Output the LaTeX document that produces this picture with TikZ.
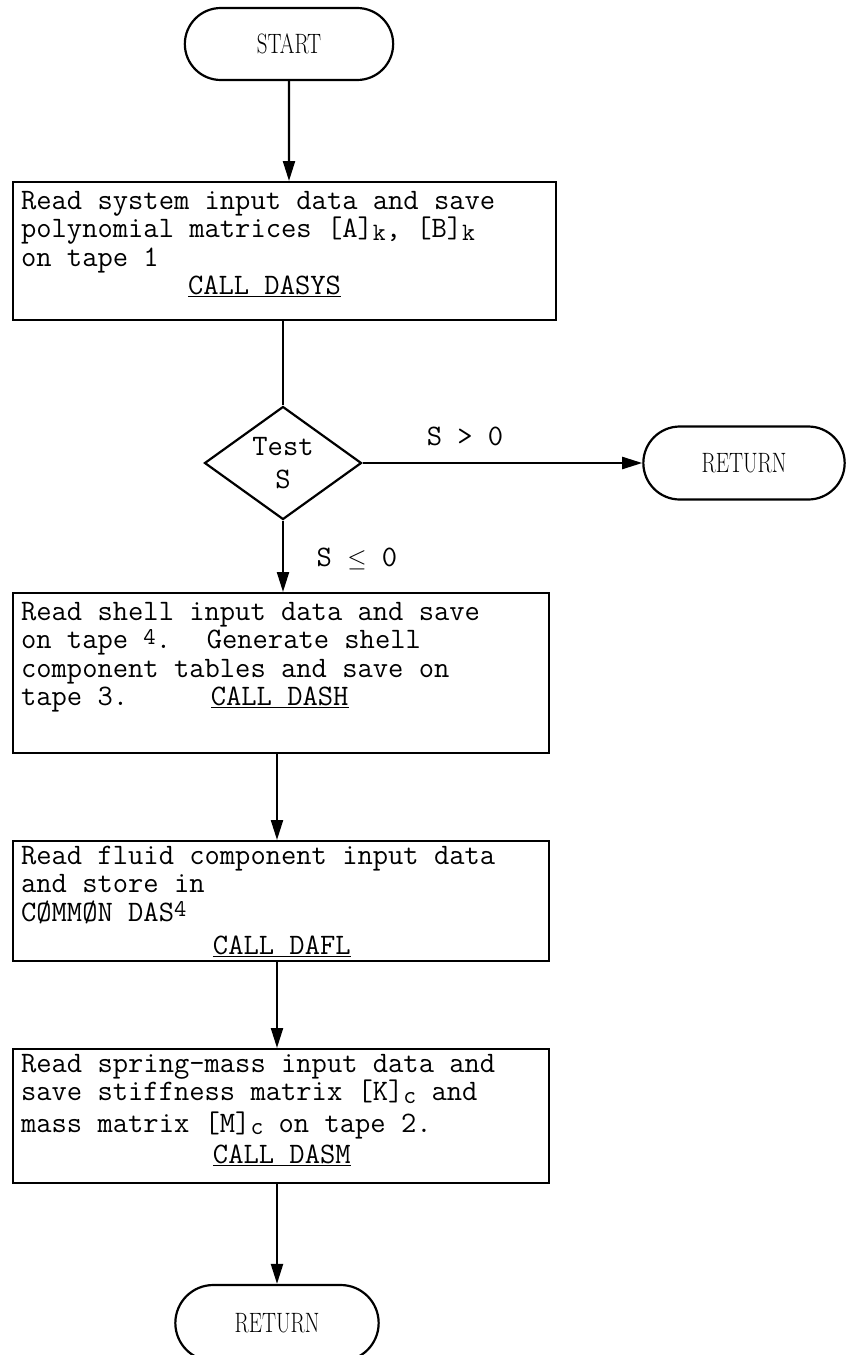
\documentclass[tikz,border=0pt]{standalone}
\usepackage{tikz}
\usetikzlibrary{shapes,arrows.meta,positioning,calc}

\newlength\chr
\setlength\chr{15.6pt}
\newcommand\boxfont{\fontsize{29.7}{28.5}\selectfont\ttfamily}
\newcommand\lowsub[1]{\raisebox{-.2ex}{\fontsize{25}{25}\selectfont #1}}
\newcommand\hifour{\raisebox{.35ex}{\fontsize{24}{24}\selectfont 4}}
\newcommand\termtext[1]{\scalebox{.75}[1]{#1}}

\tikzset{
    terminal/.style={draw, rounded rectangle, line width=2.2pt, minimum height=72pt, minimum width=212pt, font=\fontsize{28}{29}\selectfont},
    procbox/.style={draw, rectangle, line width=2.2pt, inner xsep=8pt, inner ysep=3pt, anchor=north west, font=\boxfont},
    test/.style={draw, diamond, aspect=1.4, line width=2.2pt, inner sep=0pt, minimum width=157pt, minimum height=113pt, font=\boxfont, align=center},
    flow/.style={line width=2.2pt, ->},
    >={Triangle[length=20pt,width=12pt]}
}

\begin{document}
\begin{tikzpicture}[x=1pt, y=-1pt]
    \useasboundingbox (0,0) rectangle (850,1355);

    \node[terminal, minimum width=215pt] (start) at (289,44) {\termtext{START}};

    \node[procbox] (dasys) at (12,181) {\parbox[c][132pt][t]{527pt}{\raggedright
        \vspace*{6pt}
        Read system input data and save\\
        polynomial matrices [A]\lowsub{k}, [B]\lowsub{k}\\
        on tape 1\\
        \hspace*{10.7\chr}\underline{CALL DASYS}}};

    \node[test] (tests) at (283,463) {Test\\[4pt]S};
    \node[terminal, minimum width=208pt, minimum height=73pt] (ret1) at (744,463) {\termtext{RETURN}};
    \node[font=\boxfont] (gt) at (465,436) {S > 0};
    \node[font=\boxfont] (le) at (357,559) {S $\leq$ 0};

    \node[procbox] (dash) at (12,592) {\parbox[c][154pt][t]{520pt}{\raggedright
        \vspace*{6pt}
        Read shell input data and save\\
        on tape \hifour.~ Generate shell\\
        component tables and save on\\
        tape 3.\hspace*{5.3\chr}\underline{CALL DASH}}};

    \node[procbox] (dafl) at (12,840) {\parbox[c][114pt][t]{520pt}{\raggedright
        \vspace*{2pt}
        Read fluid component input data\\
        and store in\\
        CØMMØN DAS\hifour\\[5pt]
        \hspace*{12.3\chr}\underline{CALL DAFL}}};

    \node[procbox] (dasm) at (12,1048) {\parbox[c][128pt][t]{520pt}{\raggedright
        \vspace*{2pt}
        Read spring-mass input data and\\
        save stiffness matrix [K]\lowsub{c} and\\[3pt]
        mass matrix [M]\lowsub{c} on tape 2.\\[3pt]
        \hspace*{12.3\chr}\underline{CALL DASM}}};

    \node[terminal, minimum width=210pt, minimum height=76pt] (ret2) at (277,1323) {\termtext{RETURN}};

    \coordinate (spine) at (277,0);

    % connectors
    \draw[flow] (start) -- (start |- dasys.north);
    \draw[line width=2.2pt] (tests.north |- dasys.south) -- (tests.north);
    \draw[flow] (tests.east) -- (ret1.west);
    \draw[flow] (tests.south) -- (tests.south |- dash.north);
    \draw[flow] (spine |- dash.south) -- (spine |- dafl.north);
    \draw[flow] (spine |- dafl.south) -- (spine |- dasm.north);
    \draw[flow] (spine |- dasm.south) -- (ret2.north);
\end{tikzpicture}
\end{document}
